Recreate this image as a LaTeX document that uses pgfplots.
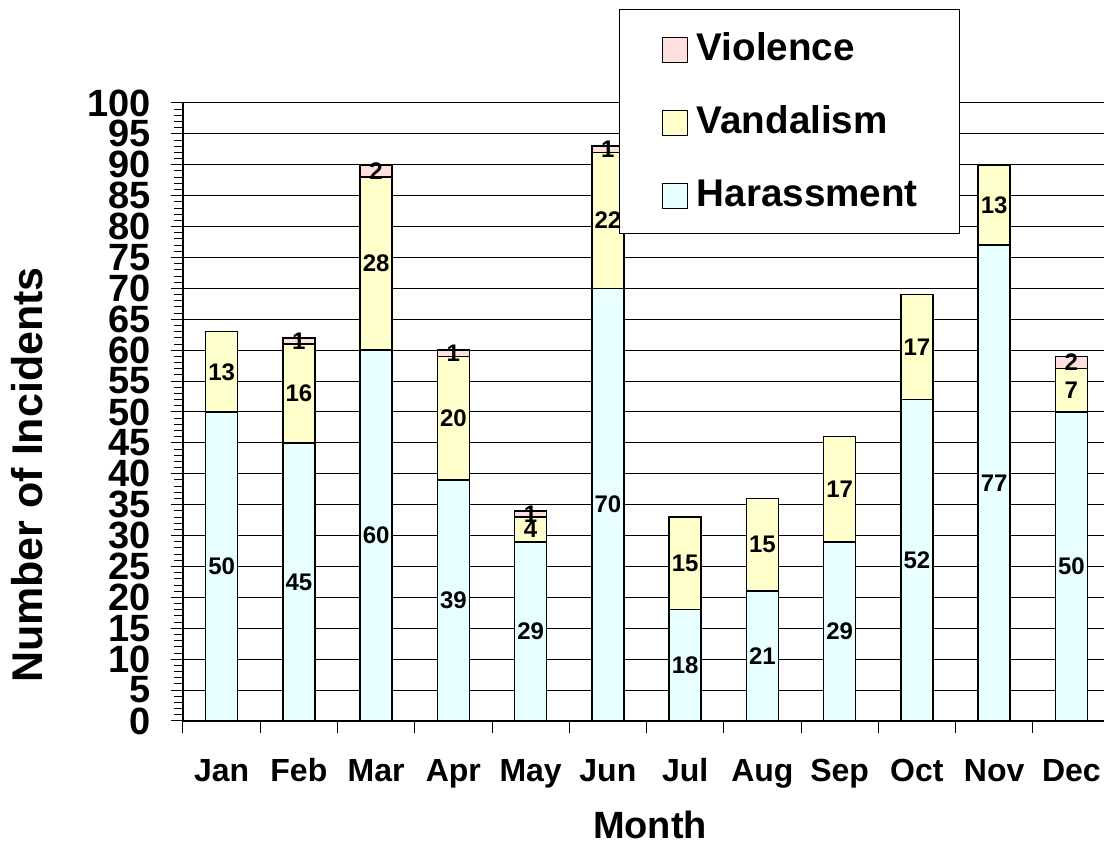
\documentclass[border=0pt]{standalone}
\usepackage{pgfplots}
\pgfplotsset{compat=1.18}
\usepackage{pgfplotstable}
\usepackage{fontspec}
\setmainfont{Liberation Sans}
\definecolor{har}{HTML}{E8FFFF}
\definecolor{van}{HTML}{FFFFCC}
\definecolor{vio}{HTML}{FFE0E0}
\pgfplotstableread{
x h v w hl vl wl
0 50 13 0 50 13 {}
1 45 16 1 45 16 1
2 60 28 2 60 28 2
3 39 20 1 39 20 1
4 29 4 1 29 4 1
5 70 22 1 70 22 1
6 18 15 0 18 15 {}
7 21 15 0 21 15 {}
8 29 17 0 29 17 {}
9 52 17 0 52 17 {}
10 77 13 0 77 13 {}
11 50 7 2 50 7 2
}\datatable
\pgfplotsset{geom/.style={at={(91.5pt,61.5pt)}, anchor=south west,
  scale only axis, width=463.5pt, height=309pt,
  xmin=-0.5, xmax=11.5, ymin=0, ymax=100}}
\begin{document}
\begin{tikzpicture}
\useasboundingbox (0,0) rectangle (552pt,422pt);
\begin{axis}[
  geom,
  ybar stacked, bar width=16pt,
  axis x line*=bottom, axis y line*=left,
  axis line style={line width=0.75pt},
  ytick={0,5,...,100}, minor y tick num=4,
  xtick={-0.5,0.5,...,11.5},
  x tick label as interval,
  xticklabels={Jan,Feb,Mar,Apr,May,Jun,Jul,Aug,Sep,Oct,Nov,Dec},
  tick align=outside, major tick length=6pt, minor tick length=4.5pt,
  tick style={black, line width=0.5pt},
  ymajorgrids, major grid style={black, line width=0.5pt},
  /pgf/number format/assume math mode=true,
  yticklabel style={font=\fontsize{19}{19}\selectfont\bfseries, inner sep=0pt, xshift=-10pt},
  xticklabel style={font=\fontsize{16}{16}\selectfont\bfseries, anchor=base, yshift=-24.5pt},
  every axis x label/.style={at={(axis description cs:0.5,0)}, anchor=base, yshift=-59pt, xshift=1.75pt, font=\fontsize{19}{19}\selectfont\bfseries},
  every axis y label/.style={at={(axis description cs:0,0.398)}, anchor=base, rotate=90, yshift=70pt, font=\fontsize{21.5}{21.5}\selectfont\bfseries},
  xlabel={Month}, ylabel={Number of Incidents},
  legend style={at={(309.5pt-91.5pt,417.5pt-61.5pt)}, anchor=north west, line width=0.6pt,
    inner xsep=21pt, inner ysep=11.35pt, row sep=20.2pt,
    nodes={inner sep=0pt, anchor=base west, text height=14pt, text depth=2.3pt},
    font=\fontsize{19.3}{19.3}\selectfont\bfseries, column sep=4.5pt},
]
\addplot+[forget plot, fill=har, draw=black, line width=0.75pt] table[x=x, y=h] {\datatable};
\addplot+[forget plot, fill=van, draw=black, line width=0.75pt] table[x=x, y=v] {\datatable};
\addplot+[forget plot, fill=vio, draw=black, line width=0.75pt] table[x=x, y=w] {\datatable};
\addlegendimage{legend image code/.code={\draw[fill=vio, draw=black, line width=0.6pt] (0pt,-1pt) rectangle (12.5pt,11.5pt);}}
\addlegendentry{Violence}
\addlegendimage{legend image code/.code={\draw[fill=van, draw=black, line width=0.6pt] (0pt,-1pt) rectangle (12.5pt,11.5pt);}}
\addlegendentry{Vandalism}
\addlegendimage{legend image code/.code={\draw[fill=har, draw=black, line width=0.6pt] (0pt,-1pt) rectangle (12.5pt,11.5pt);}}
\addlegendentry{Harassment}
\end{axis}
\begin{axis}[geom, hide axis,
  nodes near coords, point meta=explicit symbolic,
  every node near coord/.append style={font=\fontsize{12}{12}\selectfont\bfseries, anchor=center, inner sep=0pt}]
\addplot[draw=none, mark=none] table[x=x, y expr=\thisrow{h}/2, meta=hl] {\datatable};
\addplot[draw=none, mark=none] table[x=x, y expr=\thisrow{h}+\thisrow{v}/2, meta=vl] {\datatable};
\addplot[draw=none, mark=none] table[x=x, y expr=\thisrow{h}+\thisrow{v}+\thisrow{w}/2, meta=wl] {\datatable};
\end{axis}
\end{tikzpicture}
\end{document}
